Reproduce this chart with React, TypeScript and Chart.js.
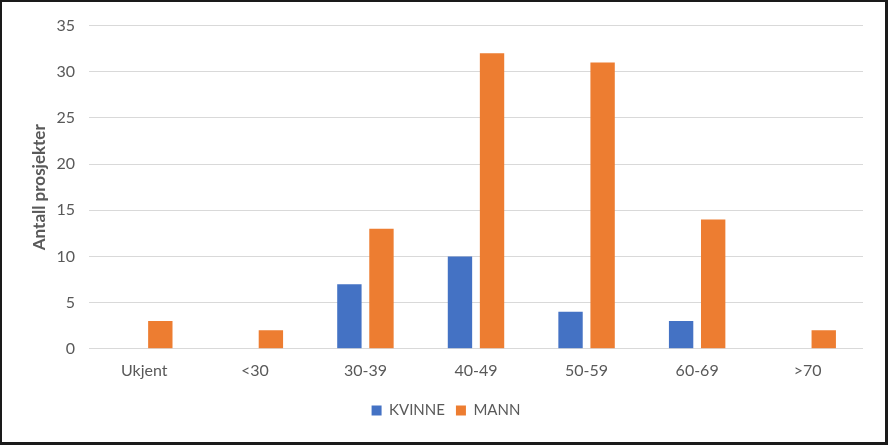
import React, { useEffect, useRef } from "react";
import { Chart, registerables } from "chart.js";

Chart.register(...registerables);

const categories = ["Ukjent", "<30", "30-39", "40-49", "50-59", "60-69", ">70"];
const kvinne = [0, 0, 7, 10, 4, 3, 0];
const mann = [3, 2, 13, 32, 31, 14, 2];
const yTicksMax = 35;
const yStep = 5;

const FONT = "Lato, 'Open Sans', sans-serif";
const TEXT = "#595959";

export default function App() {
  const ref = useRef<HTMLCanvasElement | null>(null);
  useEffect(() => {
    document.body.style.margin = "0";
    const ctx = ref.current!;
    const chart = new Chart(ctx, {
      type: "bar",
      data: {
        labels: categories,
        datasets: [
          { label: "KVINNE", data: kvinne, backgroundColor: "#4472C4", borderWidth: 0 },
          { label: "MANN", data: mann, backgroundColor: "#ED7D31", borderWidth: 0 },
        ],
      },
      options: {
        animation: false,
        responsive: false,
        maintainAspectRatio: false,
        datasets: { bar: { categoryPercentage: 0.58, barPercentage: 0.76 } },
        layout: { padding: { left: 27, right: 22, top: 23, bottom: 14 } },
        plugins: {
          tooltip: { enabled: false },
          legend: {
            position: "bottom",
            labels: {
              boxWidth: 10,
              boxHeight: 10,
              color: TEXT,
              font: { family: FONT, size: 15 },
              padding: 11,
            },
          },
        },
        scales: {
          x: {
            grid: { display: false, drawTicks: false },
            border: { display: false },
            ticks: { color: TEXT, font: { family: FONT, size: 16 }, padding: 12 },
          },
          y: {
            min: 0,
            max: yTicksMax,
            afterFit: (s: any) => { s.width = 60; },
            grid: { color: "#d9d9d9", lineWidth: 1, drawTicks: false },
            border: { display: false },
            ticks: { stepSize: yStep, color: TEXT, font: { family: FONT, size: 16 }, padding: 14 },
            title: {
              display: true,
              text: "Antall prosjekter",
              color: TEXT,
              font: { family: FONT, size: 17, weight: "bold" },
              padding: 0,
            },
          },
        },
      },
    });
    return () => chart.destroy();
  }, []);
  return (
    <div
      style={{
        position: "absolute",
        left: 0,
        top: 0,
        width: 888,
        height: 445,
        boxSizing: "border-box",
        border: "2px solid #1a1a1a",
        borderRight: "3px solid #1a1a1a",
        borderBottom: "3px solid #1a1a1a",
        background: "#fff",
      }}
    >
      <canvas ref={ref} width={883} height={440} style={{ display: "block" }} />
    </div>
  );
}
